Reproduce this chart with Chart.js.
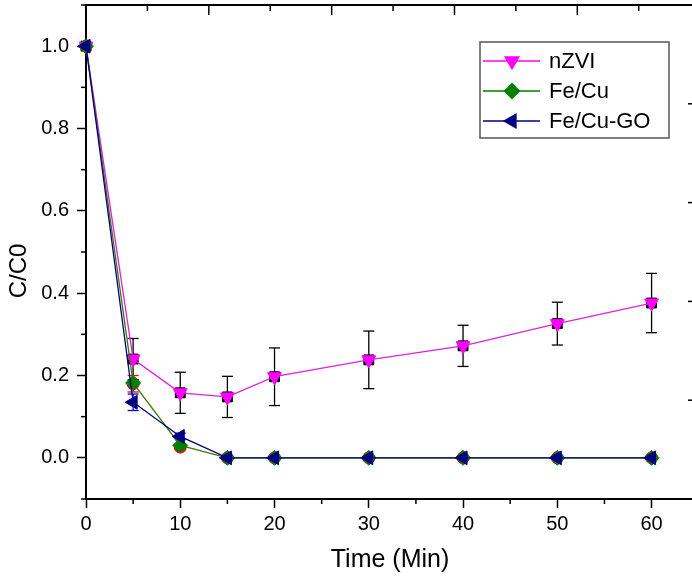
<!DOCTYPE html>
<html>
<head>
<meta charset="utf-8">
<script src="https://cdn.jsdelivr.net/npm/chart.js@4.4.1/dist/chart.umd.min.js"></script>
<style>
  html, body { margin: 0; padding: 0; background: #fff; overflow: hidden; }
  #wrap { width: 692px; height: 579px; overflow: hidden; }
</style>
</head>
<body>
<div id="wrap"><canvas id="chart" width="700" height="579"></canvas></div>
<script>
const times = [0, 5, 10, 15, 20, 30, 40, 50, 60];

const nzvi = [1.0, 0.24, 0.158, 0.148, 0.197, 0.238, 0.272, 0.326, 0.376];
const nzviErr = [0, 0.05, 0.05, 0.05, 0.07, 0.07, 0.05, 0.052, 0.072];
const feCu = [1.0, 0.182, 0.03, 0, 0, 0, 0, 0, 0];
const feCuRed = [1.0, 0.18, 0.026, 0, 0, 0, 0, 0, 0];
const feCuErr = [0, 0.02, 0.004, 0, 0, 0, 0, 0, 0];
const feCuGo = [1.0, 0.135, 0.052, 0, 0, 0, 0, 0, 0];
const feCuGoErr = [0, 0.02, 0.008, 0, 0, 0, 0, 0, 0];

const xTicks = [0, 10, 20, 30, 40, 50, 60];
const xMinor = [5, 15, 25, 35, 45, 55];
const yTicks = [0, 0.2, 0.4, 0.6, 0.8, 1.0];
const yMinor = [-0.1, 0.1, 0.3, 0.5, 0.7, 0.9, 1.1];
const topTicks = [0, 1, 2, 3, 4];
const topMinor = [0.5, 1.5, 2.5, 3.5, 4.5];
const rightTicks = [0, 1, 2, 3, 4, 5];

const toPoints = vals => times.map((t, i) => ({ x: t, y: vals[i] }));
const fontFamily = "'Liberation Sans', Arial, sans-serif";

const errorSets = [
  { vals: nzvi, err: nzviErr, color: '#000000' },
  { vals: feCuRed, err: feCuErr, color: '#ff0000' },
  { vals: feCuGo, err: feCuGoErr, color: '#0000ff' },
];

const legendItems = [
  { label: 'nZVI', color: '#ff00ff', style: 'triangle', rotation: 180, radius: 8 },
  { label: 'Fe/Cu', color: '#008000', style: 'rectRot', rotation: 0, radius: 7.5 },
  { label: 'Fe/Cu-GO', color: '#000080', style: 'triangle', rotation: 270, radius: 8 },
];

function line(ctx, x1, y1, x2, y2) {
  ctx.beginPath();
  ctx.moveTo(x1, y1);
  ctx.lineTo(x2, y2);
  ctx.stroke();
}

function noPadding(s) {
  s.paddingTop = 0;
  s.paddingBottom = 0;
  s.paddingLeft = 0;
  s.paddingRight = 0;
}

const framePlugin = {
  id: 'frame',
  beforeDatasetsDraw(chart) {
    const { ctx, scales } = chart;
    ctx.save();
    ctx.lineWidth = 1.3;
    errorSets.forEach(set => {
      ctx.strokeStyle = set.color;
      times.forEach((t, i) => {
        if (!set.err[i]) return;
        const x = scales.x.getPixelForValue(t);
        const yTop = scales.y.getPixelForValue(set.vals[i] + set.err[i]);
        const yBot = scales.y.getPixelForValue(set.vals[i] - set.err[i]);
        line(ctx, x, yTop, x, yBot);
        line(ctx, x - 5.5, yTop, x + 5.5, yTop);
        line(ctx, x - 5.5, yBot, x + 5.5, yBot);
      });
    });
    ctx.restore();
  },
  afterDraw(chart) {
    const { ctx, chartArea, scales } = chart;
    const { left, right, top, bottom } = chartArea;
    ctx.save();
    ctx.strokeStyle = '#000';
    ctx.lineWidth = 2;
    line(ctx, left - 1, top, right, top);
    line(ctx, right, top, right, bottom);
    ctx.lineWidth = 1.5;
    topTicks.forEach(v => {
      const x = scales.x2.getPixelForValue(v);
      line(ctx, x, top, x, top + 10);
    });
    topMinor.forEach(v => {
      const x = scales.x2.getPixelForValue(v);
      line(ctx, x, top, x, top + 6);
    });
    rightTicks.forEach(v => {
      const y = scales.y2.getPixelForValue(v);
      line(ctx, right - 6, y, right, y);
    });
    xMinor.forEach(v => {
      const x = scales.x.getPixelForValue(v);
      line(ctx, x, bottom, x, bottom + 5);
    });
    yMinor.forEach(v => {
      const y = scales.y.getPixelForValue(v);
      line(ctx, left - 5, y, left, y);
    });

    // y title, sits a bit below the middle like the original
    ctx.fillStyle = '#000';
    ctx.font = '24px ' + fontFamily;
    ctx.textAlign = 'center';
    ctx.textBaseline = 'middle';
    ctx.translate(19, 271);
    ctx.rotate(-Math.PI / 2);
    ctx.fillText('C/C0', 0, 0);
    ctx.setTransform(1, 0, 0, 1, 0, 0);

    // legend box
    ctx.lineWidth = 1.5;
    ctx.strokeStyle = '#555';
    ctx.strokeRect(480, 42, 189, 96);
    ctx.font = '22px ' + fontFamily;
    ctx.textAlign = 'left';
    ctx.textBaseline = 'middle';
    legendItems.forEach((item, i) => {
      const y = 61 + i * 30;
      ctx.strokeStyle = item.color;
      ctx.lineWidth = 1.3;
      line(ctx, 483, y, 540, y);
      ctx.fillStyle = item.color;
      Chart.helpers.drawPoint(ctx, {
        pointStyle: item.style,
        rotation: item.rotation,
        radius: item.radius,
        borderWidth: 1,
      }, 512, y);
      ctx.fillStyle = '#000';
      ctx.fillText(item.label, 549, y + 1);
    });
    ctx.restore();
  },
};

function series(label, vals, color, lineColor, style, rotation, radius, order, showLine) {
  return {
    label: label,
    data: toPoints(vals),
    borderColor: lineColor,
    backgroundColor: color,
    pointBackgroundColor: color,
    pointBorderColor: color,
    pointBorderWidth: 1,
    pointStyle: style,
    pointRotation: rotation,
    pointRadius: radius,
    borderWidth: 1.3,
    showLine: showLine,
    tension: 0,
    order: order,
    clip: false,
  };
}

const chartEl = document.getElementById('chart').getContext('2d');
const chart = new Chart(chartEl, {
  type: 'line',
  data: {
    datasets: [
      series('Fe/Cu-GO', feCuGo, '#000080', '#000080', 'triangle', 270, 8, 1, true),
      series('Fe/Cu', feCu, '#008000', '#3f7a00', 'rectRot', 0, 7.5, 2, true),
      series('nZVI', nzvi, '#ff00ff', '#e020e0', 'triangle', 180, 8, 3, true),
      series('Fe/Cu red', feCuRed, '#ff0000', '#ff0000', 'circle', 0, 6, 4, false),
      series('nZVI black', nzvi, '#000000', '#000000', 'rect', 0, 7, 5, false),
    ],
  },
  options: {
    responsive: false,
    animation: false,
    layout: { autoPadding: false, padding: { top: 5, right: 6, left: 0, bottom: 0 } },
    plugins: {
      legend: { display: false },
      tooltip: { enabled: false },
    },
    scales: {
      x: {
        type: 'linear',
        min: 0,
        max: 64.5,
        afterBuildTicks: s => {
          s.ticks = xTicks.map(v => ({ value: v }));
        },
        afterFit: s => {
          s.height = 80;
          noPadding(s);
        },
        border: { display: true, color: '#000', width: 2 },
        grid: { drawOnChartArea: false, tickLength: 9, tickColor: '#000', tickWidth: 1.5 },
        ticks: { color: '#000', padding: 4, font: { family: fontFamily, size: 20 } },
        title: {
          display: true,
          text: 'Time (Min)',
          color: '#000',
          font: { family: fontFamily, size: 25 },
          padding: { top: 0, bottom: 4 },
        },
      },
      y: {
        min: -0.1,
        max: 1.1,
        afterBuildTicks: s => {
          s.ticks = yTicks.map(v => ({ value: v }));
        },
        afterFit: s => {
          s.width = 86;
          noPadding(s);
        },
        border: { display: true, color: '#000', width: 2 },
        grid: { drawOnChartArea: false, tickLength: 9, tickColor: '#000', tickWidth: 1.5 },
        ticks: {
          color: '#000',
          padding: 8,
          font: { family: fontFamily, size: 20 },
          callback: v => v.toFixed(1),
        },
      },
      x2: { type: 'linear', position: 'top', display: false, min: 0, max: 4.95 },
      y2: { type: 'linear', position: 'right', display: false, min: 0, max: 5 },
    },
  },
  plugins: [framePlugin],
});
</script>
</body>
</html>
